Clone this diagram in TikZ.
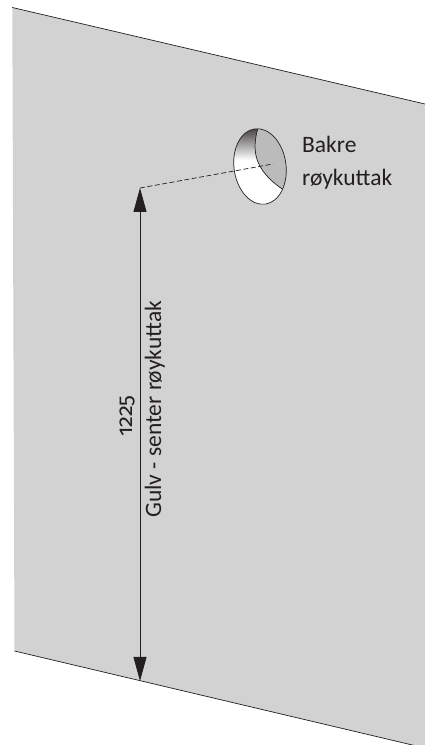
\documentclass[tikz,border=0pt]{standalone}
\usepackage{fontspec}
\setmainfont{Carlito}
\newfontfamily\numfont[Numbers=OldStyle]{Fira Sans}
\usetikzlibrary{arrows.meta}
\definecolor{wallgray}{HTML}{D2D2D2}
\definecolor{fluegray}{HTML}{BBBBBB}
\definecolor{inkgray}{HTML}{231F20}

\begin{document}
\begin{tikzpicture}
                [
                x=1pt,y=1pt,
                outline/.style={draw=inkgray,line width=0.7pt},
                dim/.style={draw=inkgray,line width=0.8pt,{Triangle[length=24pt,width=13pt]}-{Triangle[length=24pt,width=13pt]}},
                helper/.style={draw=inkgray,line width=0.7pt,dash pattern=on 5pt off 2.5pt},
                label/.style={inner sep=0pt,text=inkgray,font=\fontsize{23.5}{24}\selectfont},
                number/.style={inner sep=0pt,text=inkgray,font=\fontsize{22}{22}\numfont}
                ]
            \useasboundingbox (0,0) rectangle (425,745);
            \clip (0,0) rectangle (425,745);
            \coordinate (walltl) at (12.3,737.5);
            \coordinate (walltr) at (425,641);
            \coordinate (wallbr) at (425,-3);
            \coordinate (wallbl) at (14.5,94);
            \coordinate (flue) at (260,578.5);
            \coordinate (fluec) at (273,581);
            \coordinate (top) at (140,557);
            \coordinate (floor) at (140,64);
            \fill[wallgray] (walltl) -- (walltr) -- (wallbr) -- (wallbl) -- cycle;
            \draw[outline] (walltl) -- (walltr);
            \draw[outline] (wallbl) -- (wallbr);
            \fill[white] (flue) ellipse [x radius=26,y radius=38,rotate=8];
            \begin{scope}
                \clip (flue) ellipse [x radius=26,y radius=38,rotate=8];
                \shade[top color=inkgray!85,bottom color=white] (225,617) rectangle (262,585);
                \fill[fluegray] (258,617) .. controls (250,590) and (258,572) .. (285,554) -- (295,554) -- (295,617) -- cycle;
                \draw[outline] (258,617) .. controls (250,590) and (258,572) .. (285,554);
            \end{scope}
            \draw[outline] (flue) ellipse [x radius=26,y radius=38,rotate=8];
            \draw[helper] (top) -- (fluec);
            \draw[dim] (top) -- (floor);
            \node[label,anchor=base west] (bakre) at (302,592) {Bakre};
            \node[label,anchor=base west] (roykuttak) at (302,559) {røykuttak};
            \node[label,anchor=base west,rotate=90] (gulv) at (161,227) {Gulv - senter røykuttak};
            \node[number,anchor=base west,rotate=90] (maal) at (132,308) {1225};
            \end{tikzpicture}
\end{document}
